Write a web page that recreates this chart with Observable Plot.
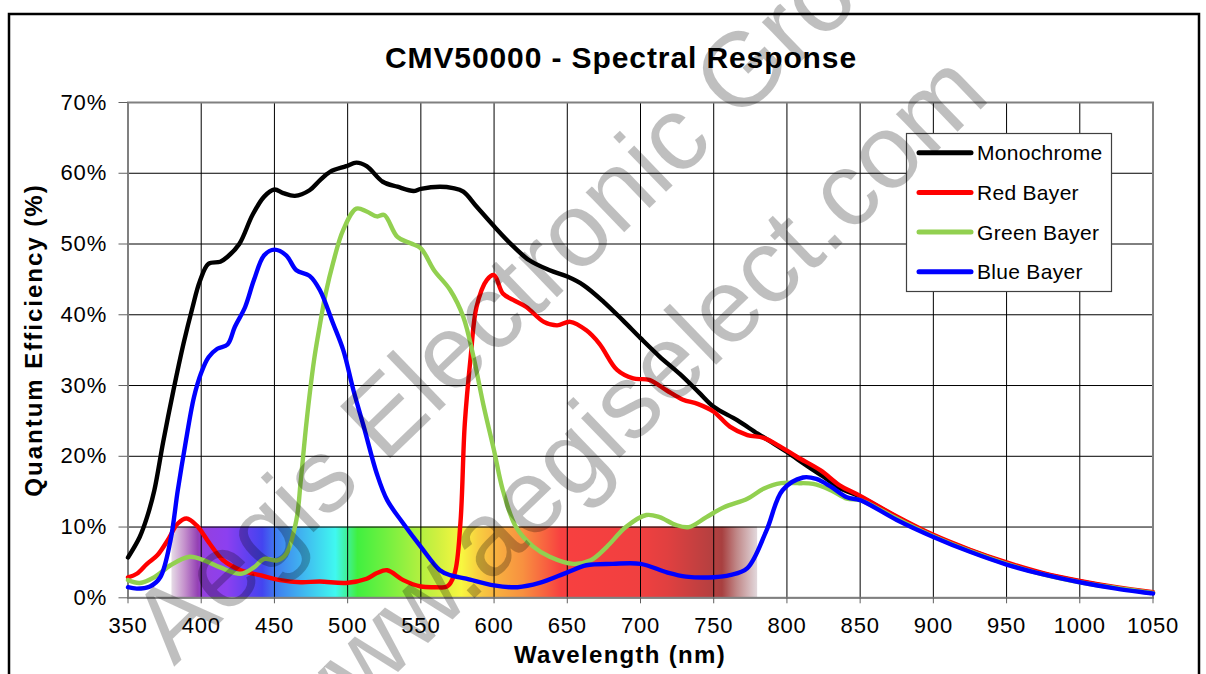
<!DOCTYPE html>
<html><head><meta charset="utf-8">
<script src="https://cdn.jsdelivr.net/npm/d3@7"></script>
<script src="https://cdn.jsdelivr.net/npm/@observablehq/plot@0.6"></script>
<style>
html,body{margin:0;padding:0;background:#fff;}
#chart{width:1206px;height:674px;overflow:hidden;position:relative;}
</style>
</head><body><div id="chart"></div>
<script>
const FONT = "'Liberation Sans', Arial, Helvetica, sans-serif";

// ---- axis ticks ----
const xTicks = [350,400,450,500,550,600,650,700,750,800,850,900,950,1000,1050];
const yTicks = [0,10,20,30,40,50,60,70];

// ---- series (wavelength nm, quantum efficiency %) ----
const monoWl = [350,358,363,368,374,381,388,394,399,405,413,418,426,435,443,450,456,464,474,481,488,499,506,513,524,534,545,550,563,572,579,588,600,611,624,638,650,661,675,688,700,713,727,740,750,766,780,791,800,814,825,836,850,875,900,925,950,975,1000,1025,1050];
const monoQE = [5.7,8.6,11.4,15.2,22.0,29.3,36.0,41.0,44.7,47.2,47.5,48.2,50.0,54.1,56.7,57.7,57.2,56.8,57.6,59.0,60.2,61.0,61.5,61.0,58.8,58.1,57.5,57.8,58.1,57.9,57.4,55.3,52.5,50.1,47.7,46.3,45.4,44.2,41.8,39.2,36.7,34.1,31.6,29.0,27.0,25.1,23.2,21.8,20.6,18.6,17.1,15.5,14.3,11.4,8.8,6.7,4.9,3.4,2.3,1.4,0.7];

const redWl = [350,356,363,370,377,384,390,397,406,415,427,440,454,468,481,499,513,520,527,538,550,560,568,573,577,580,584,588,595,600,606,613,622,634,643,652,663,672,684,695,706,718,729,739,750,761,773,784,796,807,823,836,850,875,900,925,950,975,1000,1025,1050];
const redQE = [2.9,3.4,4.8,6.0,8.1,10.5,11.2,10.2,7.6,5.3,3.9,3.2,2.5,2.2,2.3,2.1,2.7,3.5,3.9,2.5,1.6,1.5,1.6,3.4,10.5,24.6,34.0,41.1,44.9,45.6,43.0,42.1,41.1,39.0,38.5,39.0,37.8,35.9,32.2,31.0,30.8,29.3,28.0,27.4,26.3,24.2,23.0,22.6,21.3,19.9,18.0,15.9,14.4,11.5,8.9,6.8,5.0,3.5,2.4,1.5,0.8];

const greenWl = [350,358,368,379,392,402,413,427,436,443,452,458,465,468,472,477,481,485,490,497,506,513,520,525,534,543,550,559,570,579,586,593,600,606,615,627,638,654,666,677,690,704,713,724,733,745,757,773,784,796,807,818,830,841,850,875,900,925,950,975,1000,1025,1050];
const greenQE = [2.5,2.1,2.9,4.6,5.8,5.3,4.3,3.4,4.3,5.5,5.3,6.2,11.0,16.6,25.0,33.5,38.5,43.0,47.3,52.0,55.0,54.6,53.9,54.1,51.0,50.1,49.4,46.3,43.5,39.7,34.0,27.0,20.8,15.2,10.0,7.2,5.8,4.8,5.3,7.2,10.0,11.7,11.4,10.3,10.0,11.4,12.8,14.0,15.4,16.2,16.2,16.1,15.2,14.0,13.8,11.2,8.7,6.6,4.8,3.3,2.2,1.4,0.7];

const blueWl = [350,356,365,372,379,384,389,395,400,405,411,418,423,430,436,443,450,458,465,474,481,490,497,504,511,520,527,538,550,563,570,581,600,616,631,650,663,681,700,718,731,750,761,773,786,797,811,820,830,841,850,875,900,925,950,975,1000,1025,1050];
const blueQE = [1.5,1.3,1.6,2.9,8.1,15.2,21.5,28.3,31.8,34.0,35.2,35.8,38.3,41.1,44.9,48.4,49.2,48.4,46.3,45.5,43.5,38.8,35.0,29.3,24.2,17.5,13.8,10.5,7.2,3.9,3.2,2.7,1.75,1.5,2.1,3.6,4.6,4.8,4.8,3.6,3.0,2.9,3.2,4.2,9.5,15.2,17.0,16.8,15.7,14.2,13.8,11.0,8.6,6.5,4.7,3.3,2.2,1.3,0.6];

const seriesNames = ["Monochrome","Red Bayer","Green Bayer","Blue Bayer"];
const seriesColors = ["#000000","#ff0000","#92d050","#0000ff"];

// ---- visible spectrum band ----
const spectrumBand = [{from: 380, to: 780, low: 0, high: 10}];
const spectrumStops = [
  [380,"#e6dce6"],[389,"#c490cc"],[398,"#9440b4"],[402,"#9440e0"],[418,"#8c40f0"],
  [431,"#6440f0"],[442,"#4444f0"],[452,"#4080f0"],[465,"#40a8f0"],[484,"#40e0f0"],
  [492,"#40f8f0"],[502,"#40f080"],[507,"#40f040"],[526,"#70f040"],[549,"#b0f040"],
  [562,"#d0f040"],[578,"#f8f840"],[589,"#f8d040"],[602,"#f8b040"],[620,"#f89040"],
  [636,"#f86040"],[646,"#f84040"],[701,"#f04040"],[719,"#e04040"],[750,"#b44040"],
  [756,"#a84040"],[766,"#c08888"],[780,"#e2d8dc"]
];

const title = "CMV50000 - Spectral Response";
const xLabel = "Wavelength (nm)";
const yLabel = "Quantum Efficiency (%)";
const watermark1 = "Aegis Electronic Group";
const watermark2 = "www.aegiselect.com";

function rows(name, wl, qe){ return wl.map((w,i)=>({series:name, wl:w, qe:qe[i]})); }
const data = [
  ...rows(seriesNames[0], monoWl, monoQE),
  ...rows(seriesNames[1], redWl, redQE),
  ...rows(seriesNames[2], greenWl, greenQE),
  ...rows(seriesNames[3], blueWl, blueQE)
];

const W = 1206, H = 674;
const mL = 127.5, mR = 53.5, mT = 102, mB = 76.7;

const svg = Plot.plot({
  width: W, height: H,
  marginLeft: mL, marginRight: mR, marginTop: mT, marginBottom: mB,
  style: {fontFamily: FONT, fontSize: "22px", background: "#fff", color: "#000", overflow: "visible"},
  x: {domain: [350,1050], label: null},
  y: {domain: [0,70], label: null},
  color: {domain: seriesNames, range: seriesColors},
  marks: [
    Plot.rect(spectrumBand, {x1: "from", x2: "to", y1: "low", y2: "high", fill: "url(#spectrum)"}),
    Plot.gridX(xTicks, {stroke: "#000", strokeOpacity: 1, strokeWidth: 1}),
    Plot.gridY(yTicks, {stroke: "#000", strokeOpacity: 1, strokeWidth: 1}),
    Plot.frame({stroke: "#808080", strokeWidth: 2}),
    Plot.axisX(xTicks, {tickSize: 6, tickPadding: 14, fontSize: 22, stroke: "#606060", label: null, tickFormat: d => String(d)}),
    Plot.axisY(yTicks, {tickSize: 9, tickPadding: 12, fontSize: 22, stroke: "#606060", label: null, tickFormat: d => d + "%"}),
    Plot.line(data, {x: "wl", y: "qe", z: "series", stroke: "series", strokeWidth: 4.4, curve: "catmull-rom", strokeLinejoin: "round", strokeLinecap: "round"})
  ]
});

const s = d3.select(svg);
s.selectAll("g[aria-label='x-axis tick label'] text, g[aria-label='y-axis tick label'] text").attr("letter-spacing", "0.8px");

// gradient for the spectrum band
const grad = s.insert("defs", ":first-child").append("linearGradient")
  .attr("id", "spectrum").attr("x1", "0").attr("x2", "1").attr("y1", "0").attr("y2", "0");
const [b0, b1] = [spectrumBand[0].from, spectrumBand[0].to];
spectrumStops.forEach(([nm, c]) => grad.append("stop").attr("offset", ((nm - b0) / (b1 - b0)).toFixed(4)).attr("stop-color", c));

// outer border
s.append("rect").attr("x", 9).attr("y", 14).attr("width", 1190).attr("height", 720)
  .attr("fill", "none").attr("stroke", "#000").attr("stroke-width", 2.5);

// title
s.append("text").attr("x", 621).attr("y", 68).attr("text-anchor", "middle")
  .attr("font-family", FONT).attr("font-weight", "bold").attr("font-size", 30).attr("letter-spacing", "0.9px")
  .text(title);
// axis titles
s.append("text").attr("x", 620).attr("y", 663).attr("text-anchor", "middle")
  .attr("font-family", FONT).attr("font-weight", "bold").attr("font-size", 24).attr("letter-spacing", "1.3px")
  .text(xLabel);
s.append("text").attr("transform", "translate(42,340) rotate(-90)").attr("text-anchor", "middle")
  .attr("font-family", FONT).attr("font-weight", "bold").attr("font-size", 24).attr("letter-spacing", "2px")
  .text(yLabel);

// legend
const lg = s.append("g");
lg.append("rect").attr("x", 906.5).attr("y", 133.5).attr("width", 205).attr("height", 158)
  .attr("fill", "#fff").attr("stroke", "#404040").attr("stroke-width", 1.2);
seriesNames.forEach((n, i) => {
  const y = 152.7 + i * 39.7;
  lg.append("line").attr("x1", 919).attr("x2", 971).attr("y1", y).attr("y2", y)
    .attr("stroke", seriesColors[i]).attr("stroke-width", 5).attr("stroke-linecap", "round");
  lg.append("text").attr("x", 977).attr("y", y + 7.5).attr("text-anchor", "start").attr("font-family", FONT).attr("font-size", 21)
    .attr("letter-spacing", "0.3px").text(n);
});

// watermark
const wm = s.append("g").attr("fill", "#000").attr("fill-opacity", 0.25).attr("text-anchor", "start")
  .attr("font-family", FONT).attr("font-size", 105).style("pointer-events", "none");
wm.append("text").attr("transform", "translate(174,667) rotate(-44)").text(watermark1);
wm.append("text").attr("transform", "translate(308,759) rotate(-44)").text(watermark2);

document.getElementById("chart").appendChild(svg);
</script>
</body></html>
